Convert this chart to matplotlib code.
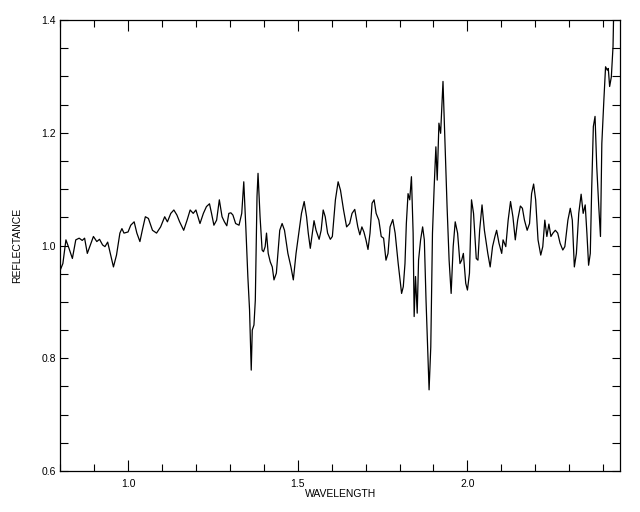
import numpy as np
import matplotlib
matplotlib.use('Agg')
import matplotlib.pyplot as plt
from matplotlib.ticker import MultipleLocator

# Spectrum
wavelength = [0.800, 0.808, 0.817, 0.826, 0.836, 0.846, 0.856, 0.865, 0.872, 0.880,
              0.889, 0.898, 0.908, 0.916, 0.925, 0.932, 0.940, 0.949, 0.957, 0.966,
              0.976, 0.982, 0.988, 1.000, 1.008, 1.018, 1.026, 1.035, 1.042, 1.051,
              1.060, 1.072, 1.084, 1.096, 1.108, 1.116, 1.126, 1.135, 1.144, 1.152,
              1.164, 1.174, 1.183, 1.192, 1.200, 1.212, 1.222, 1.231, 1.240, 1.246,
              1.253, 1.261, 1.269, 1.277, 1.284, 1.291, 1.297, 1.303, 1.309, 1.317,
              1.327, 1.335, 1.341, 1.347, 1.353, 1.358, 1.363, 1.366, 1.371, 1.375,
              1.380, 1.383, 1.389, 1.395, 1.399, 1.404, 1.408, 1.413, 1.419, 1.425,
              1.430, 1.437, 1.447, 1.454, 1.461, 1.471, 1.480, 1.487, 1.495, 1.503,
              1.511, 1.519, 1.526, 1.531, 1.537, 1.543, 1.548, 1.554, 1.563, 1.569,
              1.575, 1.581, 1.588, 1.596, 1.602, 1.611, 1.619, 1.626, 1.635, 1.644,
              1.653, 1.660, 1.668, 1.677, 1.683, 1.689, 1.695, 1.701, 1.707, 1.713,
              1.719, 1.725, 1.731, 1.739, 1.746, 1.753, 1.760, 1.766, 1.772, 1.780,
              1.787, 1.796, 1.806, 1.811, 1.816, 1.820, 1.825, 1.830, 1.835, 1.840,
              1.843, 1.847, 1.852, 1.856, 1.862, 1.868, 1.873, 1.878, 1.883, 1.887,
              1.892, 1.897, 1.902, 1.907, 1.911, 1.916, 1.921, 1.928, 1.933, 1.940,
              1.946, 1.952, 1.958, 1.964, 1.971, 1.978, 1.983, 1.988, 1.995, 2.000,
              2.006, 2.012, 2.018, 2.026, 2.031, 2.036, 2.043, 2.050, 2.060, 2.067,
              2.074, 2.081, 2.086, 2.093, 2.101, 2.105, 2.113, 2.120, 2.127, 2.134,
              2.141, 2.148, 2.156, 2.162, 2.168, 2.176, 2.183, 2.189, 2.195, 2.201,
              2.208, 2.216, 2.222, 2.228, 2.234, 2.240, 2.246, 2.252, 2.259, 2.266,
              2.273, 2.281, 2.287, 2.296, 2.303, 2.309, 2.315, 2.321, 2.328, 2.335,
              2.341, 2.347, 2.352, 2.357, 2.362, 2.366, 2.371, 2.376, 2.381, 2.387,
              2.392, 2.396, 2.402, 2.407, 2.412, 2.415, 2.419, 2.424, 2.429, 2.432]

reflectance = [0.956, 0.968, 1.010, 0.995, 0.977, 1.010, 1.013, 1.009, 1.013, 0.986,
               1.001, 1.016, 1.007, 1.011, 1.001, 0.998, 1.006, 0.983, 0.962, 0.983,
               1.022, 1.030, 1.022, 1.024, 1.036, 1.042, 1.022, 1.007, 1.027, 1.051,
               1.048, 1.027, 1.022, 1.033, 1.051, 1.042, 1.057, 1.063, 1.054, 1.042,
               1.027, 1.045, 1.063, 1.057, 1.063, 1.039, 1.057, 1.069, 1.074, 1.057,
               1.036, 1.045, 1.081, 1.051, 1.042, 1.035, 1.057, 1.058, 1.054, 1.039,
               1.036, 1.057, 1.113, 1.033, 0.945, 0.886, 0.779, 0.850, 0.859, 0.903,
               1.087, 1.128, 1.051, 0.992, 0.989, 0.998, 1.022, 0.986, 0.971, 0.962,
               0.939, 0.951, 1.027, 1.039, 1.027, 0.986, 0.962, 0.939, 0.986, 1.022,
               1.057, 1.078, 1.051, 1.022, 0.995, 1.022, 1.044, 1.027, 1.011, 1.027,
               1.063, 1.051, 1.022, 1.011, 1.016, 1.081, 1.113, 1.098, 1.063, 1.033,
               1.039, 1.057, 1.064, 1.033, 1.019, 1.033, 1.024, 1.010, 0.993, 1.022,
               1.075, 1.081, 1.057, 1.045, 1.016, 1.013, 0.974, 0.986, 1.033, 1.046,
               1.022, 0.968, 0.915, 0.927, 0.968, 1.039, 1.092, 1.081, 1.122, 1.022,
               0.874, 0.945, 0.880, 0.974, 1.010, 1.033, 1.010, 0.903, 0.815, 0.744,
               0.820, 1.022, 1.104, 1.175, 1.116, 1.217, 1.199, 1.291, 1.199, 1.069,
               0.974, 0.915, 0.998, 1.042, 1.022, 0.968, 0.974, 0.986, 0.933, 0.921,
               0.951, 1.081, 1.057, 0.977, 0.974, 1.027, 1.072, 1.027, 0.986, 0.962,
               0.998, 1.016, 1.027, 1.004, 0.986, 1.010, 0.998, 1.045, 1.078, 1.051,
               1.010, 1.045, 1.070, 1.066, 1.045, 1.027, 1.039, 1.092, 1.109, 1.081,
               1.010, 0.983, 0.998, 1.045, 1.016, 1.038, 1.016, 1.022, 1.027, 1.022,
               1.004, 0.992, 0.998, 1.045, 1.066, 1.045, 0.962, 0.986, 1.057, 1.091,
               1.057, 1.072, 1.022, 0.965, 0.986, 1.098, 1.211, 1.229, 1.140, 1.069,
               1.016, 1.181, 1.258, 1.317, 1.311, 1.314, 1.282, 1.299, 1.353, 1.450]

x_range = (0.8, 2.45)
y_range = (0.6, 1.4)

plt.rcParams["font.family"] = "Liberation Sans"

fig = plt.figure(figsize=(6.4, 5.12), dpi=100)
ax = fig.add_axes([0.094, 0.080, 0.875, 0.881])

ax.plot(wavelength, reflectance, color='black', linewidth=0.9)

ax.set_xlim(*x_range)
ax.set_ylim(*y_range)

ax.xaxis.set_major_locator(MultipleLocator(0.5))
ax.xaxis.set_minor_locator(MultipleLocator(0.1))
ax.yaxis.set_major_locator(MultipleLocator(0.2))
ax.yaxis.set_minor_locator(MultipleLocator(0.05))

ax.tick_params(axis='both', which='both', direction='in', top=True, right=True,
               width=0.8, labelsize=7.5, colors='black')
ax.tick_params(axis='x', which='major', length=8, pad=6)
ax.tick_params(axis='x', which='minor', length=5)
ax.tick_params(axis='y', which='both', length=6, pad=3)

ax.set_xlabel('WAVELENGTH', fontsize=7.5, labelpad=0)
ax.set_ylabel('REFLECTANCE', fontsize=7.5, labelpad=14)

for axis in ['top', 'bottom', 'left', 'right']:
    ax.spines[axis].set_linewidth(0.9)

fig.savefig('out.png', dpi=100)
plt.close()
